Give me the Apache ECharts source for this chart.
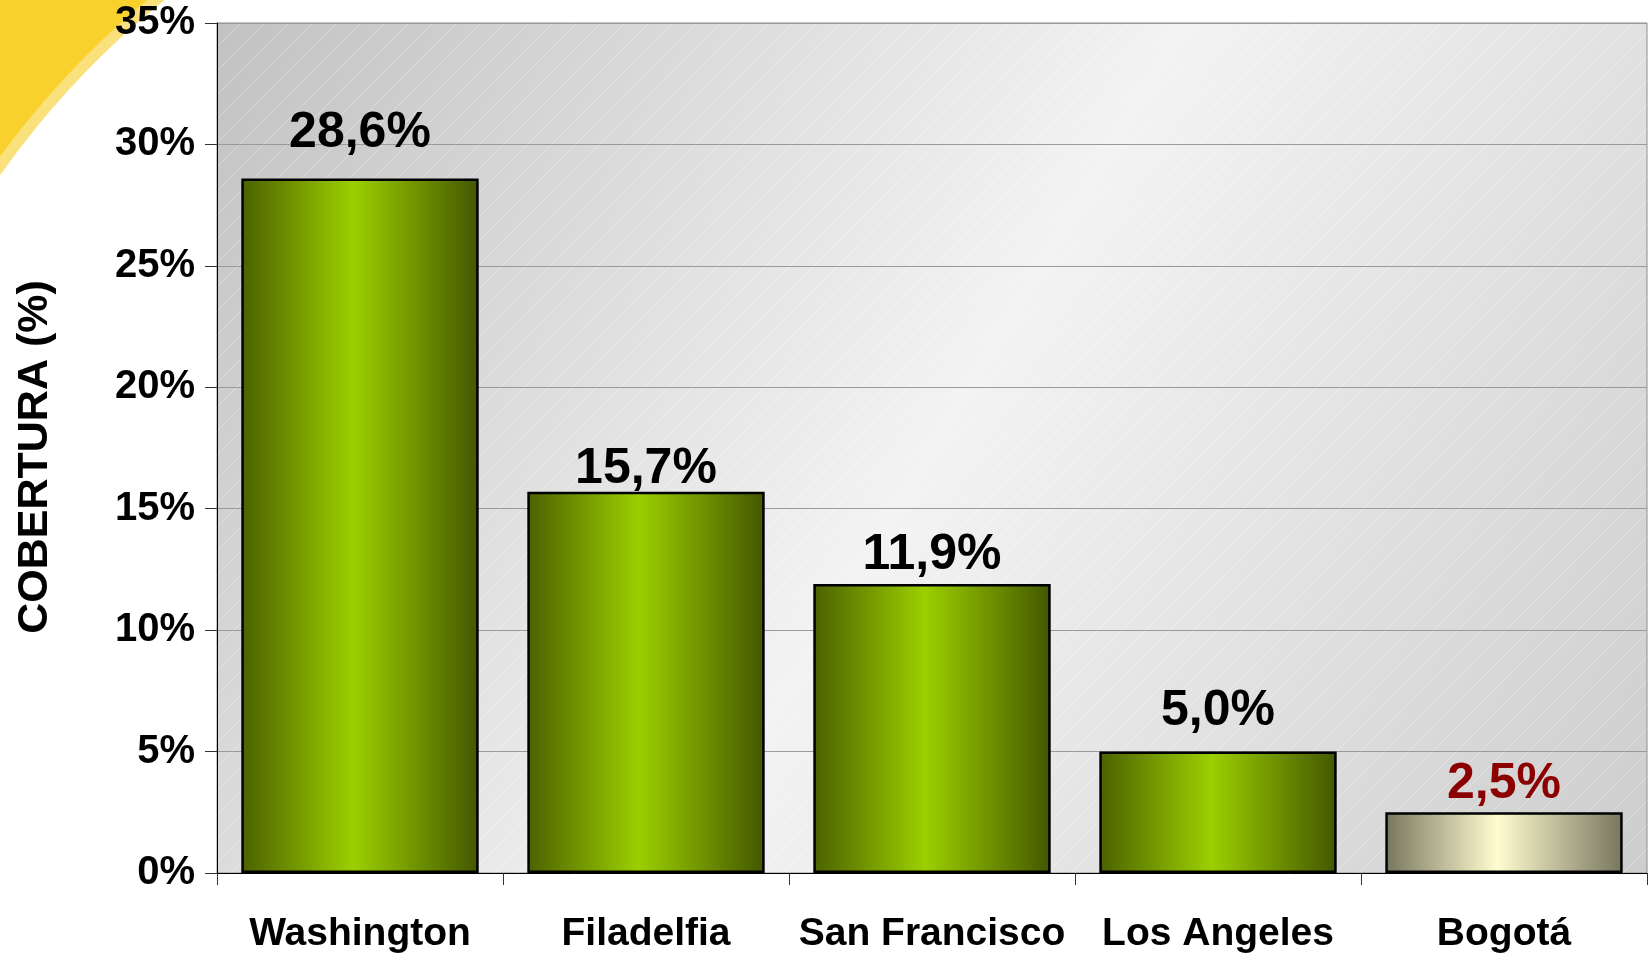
<!DOCTYPE html>
<html><head><meta charset="utf-8">
<script src="https://cdn.jsdelivr.net/npm/echarts@6/dist/echarts.min.js"></script>
<style>html,body{margin:0;padding:0;background:#fff}#c{width:1650px;height:955px}</style>
</head><body><div id="c"></div>
<script>
const categories = ['Washington', 'Filadelfia', 'San Francisco', 'Los Angeles', 'Bogotá'];
const values = [28.6, 15.7, 11.9, 5.0, 2.5];
const valueLabels = ['28,6%', '15,7%', '11,9%', '5,0%', '2,5%'];
const yTicks = [0, 5, 10, 15, 20, 25, 30, 35];
const yTitle = 'COBERTURA (%)';

const G = {left: 217, right: 3, top: 23, bottom: 82};
const W = 1650, H = 955;
const labelShift = [0, 23, 16, 5, 17];

function grad(edge, mid) {
  return new echarts.graphic.LinearGradient(0, 0, 1, 0, [
    {offset: 0, color: edge[0]}, {offset: 0.47, color: mid}, {offset: 1, color: edge[1]}
  ]);
}
const green = grad(['#4b6100', '#435700'], '#9ccf00');
const cream = grad(['#77765e', '#77765e'], '#fffcd0');

const pc = document.createElement('canvas');
pc.width = 24; pc.height = 24;
const px = pc.getContext('2d');
px.strokeStyle = 'rgba(255,255,255,0.3)';
px.lineWidth = 1;
px.beginPath(); px.moveTo(0, 24); px.lineTo(24, 0); px.stroke();
px.beginPath(); px.moveTo(-12, 12); px.lineTo(12, -12); px.stroke();
px.beginPath(); px.moveTo(12, 36); px.lineTo(36, 12); px.stroke();

const FF = 'Liberation Sans, Arial';
const arc = {cx: 700, cy: 668, r: 860};
const chart = echarts.init(document.getElementById('c'), null, {renderer: 'canvas'});
chart.setOption({
  animation: false,
  backgroundColor: '#ffffff',
  graphic: [
    {type: 'sector', shape: {cx: arc.cx, cy: arc.cy, r0: arc.r + 6, r: 1150, startAngle: Math.PI, endAngle: 1.5 * Math.PI},
     style: {fill: '#f9d12c'}, z: -10, silent: true},
    {type: 'sector', shape: {cx: arc.cx, cy: arc.cy, r0: arc.r - 4, r: arc.r + 7, startAngle: Math.PI, endAngle: 1.5 * Math.PI},
     style: {fill: '#fbe17c'}, z: -9, silent: true},
    {type: 'rect', shape: {x: G.left, y: G.top, width: W - G.left - G.right, height: H - G.top - G.bottom},
     style: {fill: {image: pc, repeat: 'repeat'}}, z: 0, silent: true},
    {type: 'text', x: 35, y: 457, rotation: Math.PI / 2,
     style: {text: yTitle, fill: '#000', font: 'bold 43px ' + FF, align: 'center', verticalAlign: 'middle'}, z: 5}
  ],
  grid: {
    left: G.left, right: G.right, top: G.top, bottom: G.bottom,
    show: true,
    borderColor: '#8c8c8c', borderWidth: 1,
    backgroundColor: new echarts.graphic.LinearGradient(0, 0, 1, 1, [
      {offset: 0, color: '#c2c2c2'}, {offset: 0.5, color: '#f3f3f3'}, {offset: 1, color: '#cdcdcd'}
    ])
  },
  xAxis: {
    type: 'category', data: categories,
    axisLine: {lineStyle: {color: '#000', width: 1}},
    axisTick: {show: true, length: 12, lineStyle: {color: '#333'}},
    axisLabel: {interval: 0, color: '#000', fontFamily: FF, fontWeight: 'bold', fontSize: 39, margin: 42}
  },
  yAxis: {
    type: 'value', min: 0, max: 35, interval: 5,
    axisLine: {show: true, lineStyle: {color: '#000', width: 1}},
    axisTick: {show: true, length: 12, lineStyle: {color: '#333'}},
    axisLabel: {color: '#000', fontFamily: FF, fontWeight: 'bold', fontSize: 40, margin: 22,
      formatter: v => yTicks.includes(v) ? v + '%' : ''},
    splitLine: {show: true, lineStyle: {color: '#9a9a9a', width: 1}}
  },
  series: [{
    type: 'bar', barCategoryGap: '17%',
    data: values.map((v, i) => ({
      value: v,
      itemStyle: {color: i === 4 ? cream : green},
      label: {color: i === 4 ? '#8b0000' : '#000', offset: [0, labelShift[i]]}
    })),
    itemStyle: {borderColor: '#000', borderWidth: 2.5},
    label: {show: true, position: 'top', distance: 20,
      fontFamily: FF, fontWeight: 'bold', fontSize: 50,
      formatter: p => valueLabels[p.dataIndex]},
    z: 3
  }]
});
</script></body></html>
